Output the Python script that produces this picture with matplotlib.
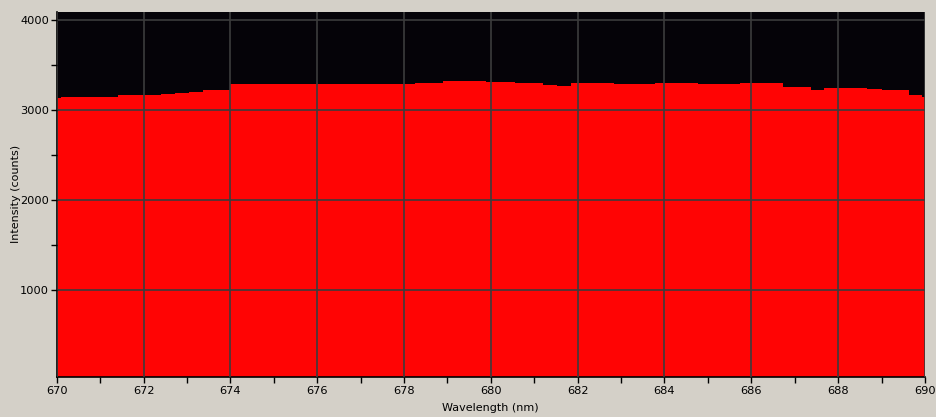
import numpy as np
import matplotlib
matplotlib.use("Agg")
import matplotlib.pyplot as plt
from matplotlib.ticker import MultipleLocator, FixedLocator

# step edges (nm) and intensity (counts)
edges = [670.0, 670.10, 671.41, 672.41, 672.73, 673.05, 673.37, 674.0,
         678.26, 678.90, 679.89, 680.56, 681.20, 681.52, 681.85, 682.84,
         683.78, 684.77, 685.74, 686.73, 687.38, 687.68, 688.67, 689.01,
         689.64, 689.94, 690.0]
counts = [3137, 3145, 3171, 3182, 3193, 3204, 3226, 3293,
          3301, 3323, 3312, 3301, 3279, 3271, 3301, 3290,
          3301, 3290, 3301, 3256, 3223, 3245, 3234, 3223,
          3167, 3145]

bg = '#d4d0c8'
fig = plt.figure(figsize=(9.36, 4.17), dpi=100, facecolor=bg)
ax = fig.add_axes([0.0606, 0.0966, 0.9276, 0.8746])
ax.set_facecolor('#050308')

ax.stairs(counts, edges, baseline=0, fill=True, color='#ff0404', zorder=1)

ax.set_xlim(670, 690)
ax.set_ylim(40, 4092)
ax.xaxis.set_major_locator(MultipleLocator(2))
ax.xaxis.set_minor_locator(MultipleLocator(1))
ax.yaxis.set_major_locator(FixedLocator([1000, 2000, 3000, 4000]))
ax.yaxis.set_minor_locator(FixedLocator([1500, 2500, 3500]))

ax.set_axisbelow(False)
ax.grid(True, which='major', color='#3c3c3c', linewidth=1.2, zorder=2)

for s in ['top', 'right']:
    ax.spines[s].set_visible(False)
for s in ['left', 'bottom']:
    ax.spines[s].set_color('black')
    ax.spines[s].set_linewidth(1.2)

ax.tick_params(which='both', direction='out', length=4, width=1, color='black',
               labelsize=8.2, labelcolor='black')
ax.tick_params(axis='y', pad=1.5)
ax.tick_params(axis='x', pad=3)

ax.set_xlabel('Wavelength (nm)', fontsize=8, va='center')
ax.set_ylabel('Intensity (counts)', fontsize=8, va='center')
ax.xaxis.set_label_coords(0.499, -0.085)
ax.yaxis.set_label_coords(-0.047, 0.5)

fig.savefig('out.png', dpi=100, facecolor=bg)
